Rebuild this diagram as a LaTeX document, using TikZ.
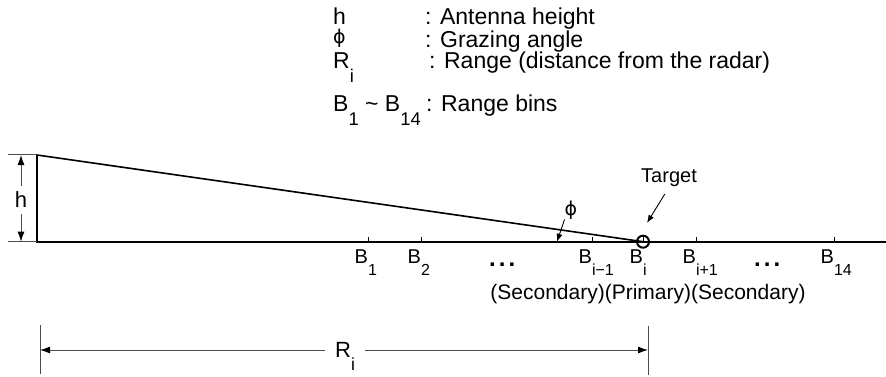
\documentclass[tikz,border=0pt]{standalone}
\usepackage{fontspec}
\setmainfont{Liberation Sans}
\newfontfamily\greekfont{DejaVu Sans}
\usetikzlibrary{arrows.meta}
\newcommand{\lowsub}[1]{\raisebox{-.6em}{\scalebox{.8}{#1}}}

\begin{document}
\begin{tikzpicture}[x=1pt, y=-1pt]
\tikzstyle{every node}=[inner sep=0pt, font=\fontsize{22}{26}\selectfont];
\tikzstyle{key}=[anchor=base west, font=\fontsize{23}{26}\selectfont];
\tikzstyle{bin}=[anchor=base west, font=\fontsize{20}{24}\selectfont];
\tikzstyle{ln}=[line width=1.6pt];
\tikzstyle{dim}=[line width=1pt, black!70];
\tikzstyle{tip}=[-{Latex[length=10pt,width=7pt,black]}];
\tikzstyle{smalltip}=[-{Latex[length=8pt,width=6pt]}];
\useasboundingbox (0,0) rectangle (886,377);
% legend
\node [key] (k1) at (333,25) {h};
\node [key] (d1) at (425,25) {: Antenna height};
\node [key] (k2) at (333,44) {\greekfont\fontsize{19}{22}\selectfont ϕ};
\node [key] (d2) at (425,48) {: Grazing angle};
\node [key] (k3) at (333,69) {R\lowsub{i}};
\node [key] (d3) at (429,69) {: Range (distance from the radar)};
\node [key] (k4) at (333,112) {B\lowsub{1} \textasciitilde{} B\lowsub{14}};
\node [key] (d4) at (426,112) {: Range bins};
% antenna and ground
\coordinate (a0) at (37,155);
\coordinate (a1) at (37,241.7);
\coordinate (g1) at (886,241.7);
\node [draw, circle, line width=2pt, minimum size=12pt] (tg) at (643,241.7) {};
\draw [ln] (a0) -- (a1) -- (g1);
\draw [ln] (a0) -- (tg.center);
\draw [dim] (8,155) -- (a0)
(8,241.7) -- (a1);
% height
\coordinate (h0) at (21,155);
\coordinate (h1) at (21,241.7);
\node [inner ysep=6pt] (hl) at (21,200) {h};
\draw [dim, tip] (hl) -- (h0);
\draw [dim, tip] (hl) -- (h1);
% range bins
\foreach \x/\nm/\s in {368/b1/1, 421/b2/2, 592/bim/{i−1}, 643/bi/i, 696/bip/{i+1}, 834/b14/14}{
\draw [line width=0.8pt] (\x,241.7) -- ++(0,-5);
\node [bin] (\nm) at (\x-13.5,263) {B\lowsub{\s}};
}
\node [bin, font=\fontsize{24}{24}\bfseries] (dt1) at (489,266) {.\hspace{3pt}.\hspace{3pt}.};
\node [bin, font=\fontsize{24}{24}\bfseries] (dt2) at (754,266) {.\hspace{3pt}.\hspace{3pt}.};
\node [anchor=base, font=\fontsize{21}{24}\selectfont] (roles) at (648,299) {(Secondary)(Primary)(Secondary)};
% angle and target
\node [font=\greekfont\fontsize{19}{24}\selectfont] (ph) at (571,210) {ϕ};
\coordinate (p1) at (557,241.7);
\draw [line width=0.9pt, smalltip] (ph.south west) -- (p1);
\node [font=\fontsize{20}{24}\selectfont] (tl) at (669,178) {Target};
\coordinate (tt) at (647,223);
\draw [line width=0.9pt, smalltip, shorten <=8pt] (tl.south) -- (tt);
% range
\coordinate (r0) at (40,350);
\coordinate (r1) at (648,350);
\draw [dim] (40,325) -- (40,374)
(648,326) -- (648,375);
\node [key, font=\fontsize{22}{26}\selectfont, inner xsep=10pt] (rl) at (325,357) {R\lowsub{i}};
\draw [dim, tip] (rl.west |- r0) -- (r0);
\draw [dim, tip] (rl.east |- r1) -- (r1);
\end{tikzpicture}
\end{document}
